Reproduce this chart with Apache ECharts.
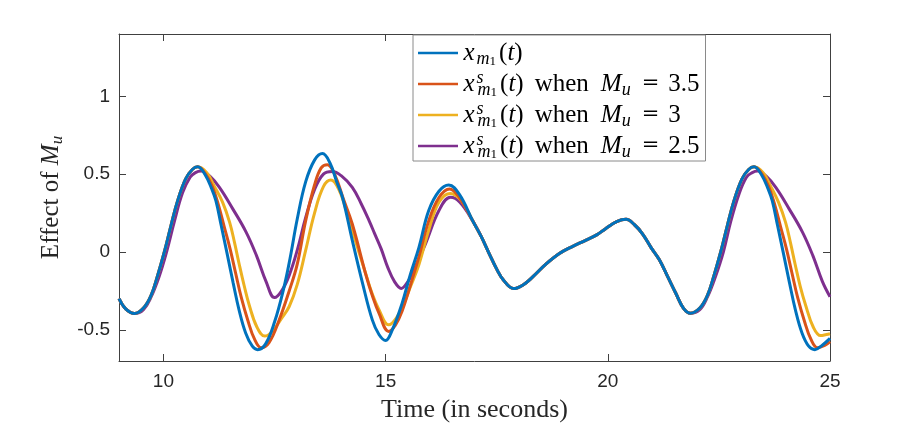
<!DOCTYPE html>
<html>
<head>
<meta charset="utf-8">
<script src="https://cdn.jsdelivr.net/npm/echarts@6/dist/echarts.min.js"></script>
<style>
  html, body { margin: 0; padding: 0; background: #fff; }
  #chart { width: 917px; height: 438px; }
</style>
</head>
<body>
<div id="chart"></div>
<script>
// values, [time, value]
var xm1 = [
  [9.0,-0.30],[9.15,-0.365],[9.35,-0.395],[9.55,-0.36],[9.72,-0.28],[9.87,-0.15],[10.02,0.0],[10.17,0.17],
  [10.32,0.33],[10.5,0.47],[10.65,0.53],[10.77,0.547],[10.95,0.49],[11.08,0.41],[11.18,0.33],[11.3,0.17],
  [11.44,-0.02],[11.57,-0.2],[11.70,-0.37],[11.85,-0.52],[12.0,-0.605],[12.12,-0.627],[12.3,-0.59],[12.5,-0.45],
  [12.71,-0.23],[12.85,-0.04],[13.01,0.21],[13.2,0.45],[13.4,0.59],[13.58,0.632],[13.75,0.57],[13.9,0.45],
  [14.03,0.35],[14.25,0.075],[14.48,-0.2],[14.7,-0.436],[14.85,-0.53],[15.0,-0.568],[15.15,-0.50],[15.37,-0.33],
  [15.55,-0.15],[15.75,0.03],[15.97,0.266],[16.2,0.39],[16.42,0.43],[16.66,0.37],[16.96,0.20],
  [17.15,0.10],[17.33,-0.01],[17.5,-0.11],[17.65,-0.18],[17.88,-0.235],[18.1,-0.21],[18.31,-0.16],[18.6,-0.08],
  [18.91,-0.01],[19.2,0.035],[19.5,0.075],[19.75,0.11],[19.95,0.15],[20.2,0.195],[20.41,0.21],[20.6,0.175],
  [20.78,0.117],[20.97,0.03],[21.16,-0.05],[21.35,-0.16],[21.53,-0.265],[21.7,-0.36],[21.86,-0.393],
  [22.07,-0.36],[22.24,-0.28],[22.39,-0.15],[22.54,0.0],[22.69,0.17],[22.84,0.33],[23.02,0.47],[23.17,0.53],
  [23.29,0.547],[23.47,0.49],[23.6,0.41],[23.7,0.33],[23.82,0.17],[23.96,-0.02],[24.09,-0.2],[24.22,-0.37],
  [24.37,-0.52],[24.52,-0.605],[24.66,-0.627],[24.82,-0.6],[25.0,-0.555]
];
var xs35 = [
  [9.0,-0.30],[9.15,-0.365],[9.35,-0.395],[9.55,-0.36],[9.72,-0.28],[9.87,-0.15],[10.02,0.0],[10.17,0.17],
  [10.32,0.33],[10.5,0.47],[10.65,0.53],[10.77,0.547],[10.95,0.50],[11.1,0.42],[11.22,0.32],[11.37,0.16],
  [11.5,0.02],[11.62,-0.13],[11.75,-0.29],[11.9,-0.44],[12.05,-0.56],[12.20,-0.615],[12.38,-0.58],[12.6,-0.44],
  [12.83,-0.25],[13.01,-0.08],[13.2,0.20],[13.4,0.43],[13.55,0.54],[13.69,0.56],[13.85,0.50],[14.05,0.34],
  [14.25,0.18],[14.55,-0.14],[14.7,-0.28],[14.85,-0.393],[15.07,-0.51],[15.22,-0.47],[15.37,-0.38],[15.55,-0.22],
  [15.75,-0.03],[15.97,0.2],[16.2,0.35],[16.44,0.405],[16.66,0.35],[16.96,0.20],
  [17.15,0.10],[17.33,-0.01],[17.5,-0.11],[17.65,-0.18],[17.88,-0.235],[18.1,-0.21],[18.31,-0.16],[18.6,-0.08],
  [18.91,-0.01],[19.2,0.035],[19.5,0.075],[19.75,0.11],[19.95,0.15],[20.2,0.195],[20.41,0.21],[20.6,0.175],
  [20.78,0.117],[20.97,0.03],[21.16,-0.05],[21.35,-0.16],[21.53,-0.265],[21.7,-0.36],[21.86,-0.393],
  [22.07,-0.36],[22.24,-0.28],[22.39,-0.15],[22.54,0.0],[22.69,0.17],[22.84,0.33],[23.02,0.47],[23.17,0.53],
  [23.29,0.547],[23.47,0.50],[23.62,0.42],[23.74,0.32],[23.89,0.16],[24.02,0.02],[24.14,-0.13],[24.27,-0.29],
  [24.42,-0.44],[24.57,-0.56],[24.72,-0.615],[24.88,-0.60],[25.0,-0.575]
];
var xs3 = [
  [9.0,-0.30],[9.15,-0.365],[9.35,-0.395],[9.55,-0.36],[9.72,-0.28],[9.87,-0.15],[10.02,0.0],[10.17,0.17],
  [10.32,0.33],[10.5,0.47],[10.65,0.53],[10.77,0.547],[10.97,0.51],[11.15,0.42],[11.33,0.32],[11.49,0.19],
  [11.6,0.06],[11.71,-0.085],[11.82,-0.22],[11.93,-0.34],[12.1,-0.48],[12.28,-0.54],[12.45,-0.51],[12.65,-0.43],
  [12.83,-0.35],[13.01,-0.21],[13.2,0.01],[13.4,0.25],[13.6,0.42],[13.77,0.462],[13.95,0.40],[14.1,0.28],[14.25,0.138],
  [14.55,-0.138],[14.7,-0.27],[14.85,-0.37],[15.07,-0.468],[15.25,-0.42],[15.4,-0.34],[15.55,-0.23],[15.75,-0.08],
  [15.97,0.14],[16.2,0.32],[16.46,0.376],[16.7,0.33],[16.96,0.20],
  [17.15,0.10],[17.33,-0.01],[17.5,-0.11],[17.65,-0.18],[17.88,-0.235],[18.1,-0.21],[18.31,-0.16],[18.6,-0.08],
  [18.91,-0.01],[19.2,0.035],[19.5,0.075],[19.75,0.11],[19.95,0.15],[20.2,0.195],[20.41,0.21],[20.6,0.175],
  [20.78,0.117],[20.97,0.03],[21.16,-0.05],[21.35,-0.16],[21.53,-0.265],[21.7,-0.36],[21.86,-0.393],
  [22.07,-0.36],[22.24,-0.28],[22.39,-0.15],[22.54,0.0],[22.69,0.17],[22.84,0.33],[23.02,0.47],[23.17,0.53],
  [23.29,0.547],[23.49,0.51],[23.67,0.42],[23.84,0.32],[24.0,0.19],[24.11,0.06],[24.22,-0.085],[24.33,-0.22],
  [24.45,-0.34],[24.62,-0.48],[24.79,-0.537],[24.92,-0.53],[25.0,-0.525]
];
var xs25 = [
  [9.0,-0.30],[9.15,-0.365],[9.35,-0.395],[9.55,-0.37],[9.72,-0.29],[9.9,-0.16],[10.07,0.0],[10.25,0.2],
  [10.43,0.38],[10.6,0.48],[10.72,0.51],[10.85,0.52],[11.05,0.485],[11.26,0.415],[11.56,0.277],[11.86,0.128],
  [12.09,-0.02],[12.31,-0.19],[12.5,-0.293],[12.66,-0.25],[12.83,-0.15],[13.01,0.01],
  [13.2,0.22],[13.4,0.40],[13.6,0.50],[13.8,0.517],[14.0,0.49],[14.25,0.415],[14.45,0.31],[14.63,0.20],
  [14.75,0.12],[14.9,0.02],[15.05,-0.1],[15.2,-0.19],[15.35,-0.234],[15.5,-0.19],[15.6,-0.138],[15.9,0.054],
  [16.2,0.266],[16.46,0.351],[16.67,0.32],[16.96,0.20],
  [17.15,0.10],[17.33,-0.01],[17.5,-0.11],[17.65,-0.18],[17.88,-0.235],[18.1,-0.21],[18.31,-0.16],[18.6,-0.08],
  [18.91,-0.01],[19.2,0.035],[19.5,0.075],[19.75,0.11],[19.95,0.15],[20.2,0.195],[20.41,0.21],[20.6,0.175],
  [20.78,0.117],[20.97,0.03],[21.16,-0.05],[21.35,-0.16],[21.53,-0.265],[21.7,-0.36],[21.86,-0.393],
  [22.07,-0.37],[22.24,-0.29],[22.42,-0.16],[22.6,0.0],[22.77,0.2],[22.95,0.37],[23.12,0.48],[23.25,0.51],
  [23.37,0.52],[23.57,0.485],[23.78,0.415],[24.08,0.277],[24.38,0.128],[24.61,-0.02],[24.83,-0.19],
  [25.0,-0.287]
];

var xTicks = [10, 15, 20, 25];
var yTicks = [-0.5, 0, 0.5, 1];
var seriesNames = ['xm1', 'xs35', 'xs3', 'xs25'];
var sp = '\u00a0';
var xsub = '{i|x}{k|' + sp + '}{s|s}{m|m}{one|1}{k2|' + sp + '}{r|(}{i|t}{r|)}';
var head = xsub.replace('{s|s}', '{s|s}') + '{g|' + sp + '}{r|when}{g3|' + sp + '}{i|M}{u|u}{g|' + sp + '}{eq|=}{g2|' + sp + '}';
var legendText = {
  xm1: '{i|x}{k|' + sp + '}{m|m}{one|1}{k2|' + sp + '}{r|(}{i|t}{r|)}',
  xs35: head + '{r|3.5}',
  xs3: head + '{r|3}',
  xs25: head + '{r|2.5}'
};
var colors = ['#0072BD', '#D95319', '#EDB120', '#7E2F8E'];

var serif = 'Liberation Serif';
var axisColor = '#404040';

var chart = echarts.init(document.getElementById('chart'));

function mkAxisX(pos, showLabel) {
  return {
    type: 'value', position: pos, min: 9, max: 25,
    axisLine: { show: true, onZero: false, lineStyle: { color: axisColor, width: 1 } },
    axisTick: { show: true, inside: true, length: 7, customValues: xTicks, lineStyle: { color: axisColor } },
    axisLabel: { show: showLabel, customValues: xTicks, margin: 11, color: '#262626',
      fontFamily: 'Liberation Sans', fontSize: 19 },
    splitLine: { show: false }
  };
}
function mkAxisY(pos, showLabel) {
  return {
    type: 'value', position: pos, min: -0.7, max: 1.4,
    axisLine: { show: true, onZero: false, lineStyle: { color: axisColor, width: 1 } },
    axisTick: { show: true, inside: true, length: 7, customValues: yTicks, lineStyle: { color: axisColor } },
    axisLabel: { show: showLabel, customValues: yTicks, margin: 9, color: '#262626',
      fontFamily: 'Liberation Sans', fontSize: 19 },
    splitLine: { show: false }
  };
}

var xBottom = mkAxisX('bottom', true);
xBottom.name = 'Time (in seconds)';
xBottom.nameLocation = 'middle';
xBottom.nameGap = 36;
xBottom.nameTextStyle = { fontFamily: serif, fontSize: 26, color: '#262626' };

var yLeft = mkAxisY('left', true);
yLeft.name = 'Effect of {i|M}{u|u}';
yLeft.nameLocation = 'middle';
yLeft.nameGap = 52;
yLeft.nameTextStyle = {
  fontFamily: serif, fontSize: 25, color: '#262626', lineHeight: 30,
  rich: {
    i: { fontFamily: serif, fontStyle: 'italic', fontSize: 25, color: '#262626', lineHeight: 30 },
    u: { fontFamily: serif, fontStyle: 'italic', fontSize: 17, color: '#262626', lineHeight: 17, verticalAlign: 'bottom' }
  }
};

var series = seriesNames.map(function (n, k) {
  return {
    name: n,
    type: 'line',
    data: [xm1, xs35, xs3, xs25][k],
    smooth: 0.4,
    symbol: 'none',
    clip: true,
    lineStyle: { color: colors[k], width: 3 },
    itemStyle: { color: colors[k] },
    z: 2 + (3 - k)
  };
});

var option = {
  backgroundColor: '#ffffff',
  animation: false,
  grid: { left: 119, right: 87, top: 34, bottom: 77 },
  xAxis: [xBottom, mkAxisX('top', false)],
  yAxis: [yLeft, mkAxisY('right', false)],
  legend: {
    orient: 'vertical',
    left: 413, top: 35,
    padding: [3, 6, 0, 5],
    itemGap: 1,
    icon: 'path://M0,0H40V2.5H0Z',
    itemWidth: 41, itemHeight: 2.5,
    backgroundColor: '#ffffff',
    borderColor: '#8a8a8a', borderWidth: 1, borderRadius: 0,
    data: seriesNames,
    formatter: function (name) { return legendText[name]; },
    textStyle: {
      fontFamily: serif, fontSize: 25, color: '#000', lineHeight: 30,
      rich: {
        i: { fontFamily: serif, fontStyle: 'italic', fontSize: 25, lineHeight: 30, color: '#000' },
        r: { fontFamily: serif, fontSize: 25, lineHeight: 30, color: '#000' },
        eq: { fontFamily: 'DejaVu Serif', fontSize: 21, lineHeight: 30, color: '#000' },
        k: { fontFamily: serif, fontSize: 25, lineHeight: 30, width: 2 },
        k2: { fontFamily: serif, fontSize: 25, lineHeight: 30, width: 3 },
        g: { fontFamily: serif, fontSize: 25, lineHeight: 30, width: 11 },
        g3: { fontFamily: serif, fontSize: 25, lineHeight: 30, width: 12 },
        g2: { fontFamily: serif, fontSize: 25, lineHeight: 30, width: 9 },
        s: { fontFamily: serif, fontStyle: 'italic', fontSize: 18, lineHeight: 18, verticalAlign: 'top', width: 1, color: '#000' },
        m: { fontFamily: serif, fontStyle: 'italic', fontSize: 18, lineHeight: 16, verticalAlign: 'bottom', color: '#000' },
        one: { fontFamily: serif, fontSize: 13, lineHeight: 10, verticalAlign: 'bottom', color: '#000' },
        u: { fontFamily: serif, fontStyle: 'italic', fontSize: 18, lineHeight: 16, verticalAlign: 'bottom', color: '#000' }
      }
    }
  },
  series: series
};

chart.setOption(option);
</script>
</body>
</html>
